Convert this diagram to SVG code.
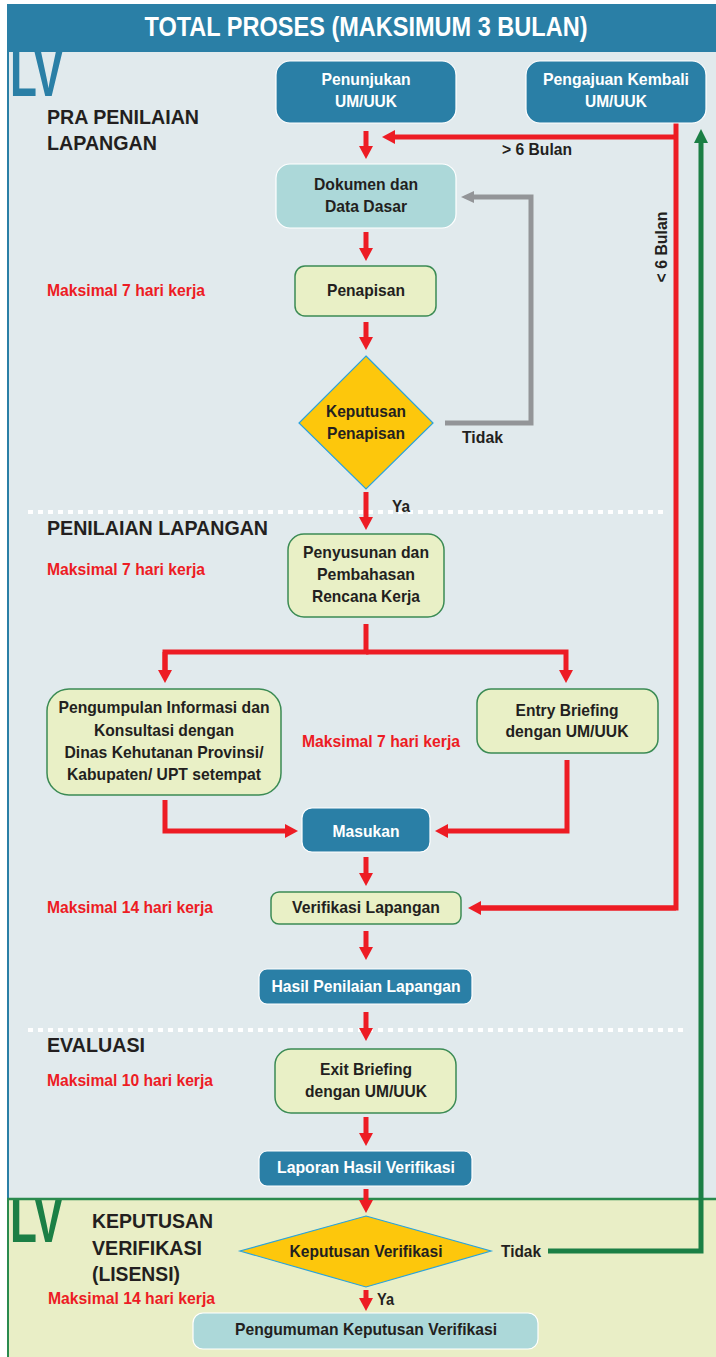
<svg xmlns="http://www.w3.org/2000/svg" width="716" height="1357" viewBox="0 0 716 1357">
<defs>
<style>
.t{font-family:"Liberation Sans",Arial,sans-serif;font-weight:bold;}
.w{fill:#ffffff;font-size:17px;}
.d{fill:#231f20;font-size:17px;}
.r{fill:#ed1c24;font-size:16px;}
.h{fill:#231f20;font-size:21px;}
.lv{font-family:"Liberation Sans",Arial,sans-serif;font-weight:bold;font-size:66px;}
.blue{fill:#2a7fa6;stroke:#ffffff;stroke-width:1.2;}
.teal{fill:#acd8d9;stroke:#ffffff;stroke-width:1.2;}
.lg{fill:#e9f0c6;stroke:#3b8b54;stroke-width:1.5;}
.dia{fill:#fdc70c;stroke:#29a3dd;stroke-width:1.2;}
.ra{fill:none;stroke:#ed1c24;stroke-width:5;marker-end:url(#ar);}
.rl{fill:none;stroke:#ed1c24;stroke-width:5;}
.dot{stroke:#ffffff;stroke-width:4;stroke-dasharray:5 5;}
</style>
<marker id="ar" markerUnits="userSpaceOnUse" viewBox="0 0 13 14" markerWidth="13" markerHeight="14" refX="1" refY="7" orient="auto"><path d="M0,0 L13,7 L0,14 z" fill="#ed1c24"/></marker>
<marker id="ag" markerUnits="userSpaceOnUse" viewBox="0 0 13 12" markerWidth="13" markerHeight="12" refX="1" refY="6" orient="auto"><path d="M0,0 L13,6 L0,12 z" fill="#939598"/></marker>
<marker id="agr" markerUnits="userSpaceOnUse" viewBox="0 0 14 14" markerWidth="14" markerHeight="14" refX="1" refY="7" orient="auto"><path d="M0,0 L14,7 L0,14 z" fill="#1b7f45"/></marker>
<clipPath id="lowclip"><rect x="0" y="1200" width="716" height="157"/></clipPath>
</defs>
<rect width="716" height="1357" fill="#ffffff"/>
<g id="panel-upper">
<rect x="7" y="52" width="709" height="1147" fill="#e1eaed"/>
<line x1="8" y1="52" x2="8" y2="1199" stroke="#2a7fa6" stroke-width="2"/>
<text class="lv" x="10" y="96" fill="#2a7fa6" textLength="53" lengthAdjust="spacingAndGlyphs">LV</text>
</g>
<g id="panel-lower">
<rect x="7" y="1199" width="709" height="158" fill="#e9eec6"/>
<text class="lv" x="10" y="1242" clip-path="url(#lowclip)" fill="#1b7f45" textLength="53" lengthAdjust="spacingAndGlyphs">LV</text>
<line x1="7" y1="1199" x2="716" y2="1199" stroke="#2a8a4e" stroke-width="2.5"/>
<line x1="8" y1="1199" x2="8" y2="1357" stroke="#2a8a4e" stroke-width="2"/>
</g>
<g id="header">
<rect x="7" y="4" width="709" height="48" fill="#2a7fa6"/>
<text class="t" x="366" y="36" fill="#ffffff" font-size="27" text-anchor="middle" textLength="443" lengthAdjust="spacingAndGlyphs">TOTAL PROSES (MAKSIMUM 3 BULAN)</text>
</g>
<g id="separators">
<line class="dot" x1="28" y1="512" x2="663" y2="512"/>
<line class="dot" x1="28" y1="1030" x2="685" y2="1030"/>
</g>
<g id="labels">
<text class="t h" x="47" y="124" textLength="152" lengthAdjust="spacingAndGlyphs">PRA PENILAIAN</text>
<text class="t h" x="47" y="150" textLength="110" lengthAdjust="spacingAndGlyphs">LAPANGAN</text>
<text class="t r" x="47" y="296" textLength="158" lengthAdjust="spacingAndGlyphs">Maksimal 7 hari kerja</text>
<text class="t h" x="47" y="535" textLength="221" lengthAdjust="spacingAndGlyphs">PENILAIAN LAPANGAN</text>
<text class="t r" x="47" y="575" textLength="158" lengthAdjust="spacingAndGlyphs">Maksimal 7 hari kerja</text>
<text class="t r" x="302" y="747" textLength="158" lengthAdjust="spacingAndGlyphs">Maksimal 7 hari kerja</text>
<text class="t r" x="47" y="913" textLength="166" lengthAdjust="spacingAndGlyphs">Maksimal 14 hari kerja</text>
<text class="t h" x="47" y="1052" textLength="98" lengthAdjust="spacingAndGlyphs">EVALUASI</text>
<text class="t r" x="47" y="1086" textLength="166" lengthAdjust="spacingAndGlyphs">Maksimal 10 hari kerja</text>
<text class="t h" x="92" y="1228" textLength="121" lengthAdjust="spacingAndGlyphs">KEPUTUSAN</text>
<text class="t h" x="92" y="1255" textLength="110" lengthAdjust="spacingAndGlyphs">VERIFIKASI</text>
<text class="t h" x="92" y="1281" textLength="88" lengthAdjust="spacingAndGlyphs">(LISENSI)</text>
<text class="t r" x="48" y="1304" textLength="167" lengthAdjust="spacingAndGlyphs">Maksimal 14 hari kerja</text>
</g>
<g id="connectors">
<path class="ra" d="M366,131 V147"/>
<path class="rl" d="M676,123 V908 H478"/>
<path class="ra" d="M676,137 H394"/>
<path class="ra" d="M366,232 V249"/>
<path class="ra" d="M366,322 V338"/>
<path fill="none" stroke="#939598" stroke-width="5" d="M445,423 H531 V197 H473" marker-end="url(#ag)"/>
<path class="ra" d="M366,492 V518"/>
<path class="rl" d="M366,624 V652 H165 V671"/>
<path class="ra" d="M165,652 V671"/>
<path class="ra" d="M366,652 H566 V671"/>
<path class="ra" d="M165,800 V831 H286"/>
<path class="ra" d="M567,760 V831 H447"/>
<path class="ra" d="M366,857 V874"/>
<path class="ra" d="M676,908 H480"/>
<path class="ra" d="M366,931 V948"/>
<path class="ra" d="M366,1012 V1029"/>
<path class="ra" d="M366,1117 V1134"/>
<path class="ra" d="M366,1189 V1201"/>
<path class="ra" d="M366,1290 V1299"/>
<path fill="none" stroke="#1b7f45" stroke-width="5" d="M548,1251 H701 V142" marker-end="url(#agr)"/>
<text class="t d" x="537" y="155" textLength="70" lengthAdjust="spacingAndGlyphs" text-anchor="middle">&gt; 6 Bulan</text>
<text class="t d" transform="translate(667,247) rotate(-90)" x="0" y="0" text-anchor="middle" textLength="71" lengthAdjust="spacingAndGlyphs">&lt; 6 Bulan</text>
<text class="t d" x="462" y="443" textLength="41" lengthAdjust="spacingAndGlyphs">Tidak</text>
<text class="t d" x="392" y="512" textLength="18" lengthAdjust="spacingAndGlyphs">Ya</text>
<text class="t d" x="501" y="1257" textLength="40" lengthAdjust="spacingAndGlyphs">Tidak</text>
<text class="t d" x="377" y="1305" textLength="17" lengthAdjust="spacingAndGlyphs">Ya</text>
</g>
<g id="n-penunjukan">
<rect class="blue" x="276" y="61" width="180" height="62" rx="14"/>
<text class="t w" x="366" y="85" text-anchor="middle" textLength="89" lengthAdjust="spacingAndGlyphs">Penunjukan</text>
<text class="t w" x="366" y="107" text-anchor="middle" textLength="62" lengthAdjust="spacingAndGlyphs">UM/UUK</text>
</g>
<g id="n-pengajuan">
<rect class="blue" x="526" y="61" width="180" height="62" rx="14"/>
<text class="t w" x="616" y="85" text-anchor="middle" textLength="146" lengthAdjust="spacingAndGlyphs">Pengajuan Kembali</text>
<text class="t w" x="616" y="107" text-anchor="middle" textLength="62" lengthAdjust="spacingAndGlyphs">UM/UUK</text>
</g>
<g id="n-dokumen">
<rect class="teal" x="276" y="164" width="180" height="64" rx="14"/>
<text class="t d" x="366" y="190" text-anchor="middle" textLength="104" lengthAdjust="spacingAndGlyphs">Dokumen dan</text>
<text class="t d" x="366" y="212" text-anchor="middle" textLength="82" lengthAdjust="spacingAndGlyphs">Data Dasar</text>
</g>
<g id="n-penapisan">
<rect class="lg" x="295" y="266" width="141" height="50" rx="10"/>
<text class="t d" x="366" y="296" text-anchor="middle" textLength="78" lengthAdjust="spacingAndGlyphs">Penapisan</text>
</g>
<g id="n-keputusan-penapisan">
<polygon class="dia" points="366,356 433,423 366,489 299,423"/>
<text class="t d" x="366" y="417" text-anchor="middle" textLength="80" lengthAdjust="spacingAndGlyphs">Keputusan</text>
<text class="t d" x="366" y="439" text-anchor="middle" textLength="78" lengthAdjust="spacingAndGlyphs">Penapisan</text>
</g>
<g id="n-penyusunan">
<rect class="lg" x="288" y="534" width="156" height="83" rx="16"/>
<text class="t d" x="366" y="558" text-anchor="middle" textLength="126" lengthAdjust="spacingAndGlyphs">Penyusunan dan</text>
<text class="t d" x="366" y="580" text-anchor="middle" textLength="98" lengthAdjust="spacingAndGlyphs">Pembahasan</text>
<text class="t d" x="366" y="602" text-anchor="middle" textLength="108" lengthAdjust="spacingAndGlyphs">Rencana Kerja</text>
</g>
<g id="n-pengumpulan">
<rect class="lg" x="47" y="689" width="234" height="106" rx="22"/>
<text class="t d" x="164" y="713" text-anchor="middle" textLength="211" lengthAdjust="spacingAndGlyphs">Pengumpulan Informasi dan</text>
<text class="t d" x="164" y="736" text-anchor="middle" textLength="140" lengthAdjust="spacingAndGlyphs">Konsultasi dengan</text>
<text class="t d" x="164" y="758" text-anchor="middle" textLength="199" lengthAdjust="spacingAndGlyphs">Dinas Kehutanan Provinsi/</text>
<text class="t d" x="164" y="780" text-anchor="middle" textLength="194" lengthAdjust="spacingAndGlyphs">Kabupaten/ UPT setempat</text>
</g>
<g id="n-entry">
<rect class="lg" x="477" y="689" width="181" height="64" rx="14"/>
<text class="t d" x="567" y="716" text-anchor="middle" textLength="103" lengthAdjust="spacingAndGlyphs">Entry Briefing</text>
<text class="t d" x="567" y="737" text-anchor="middle" textLength="123" lengthAdjust="spacingAndGlyphs">dengan UM/UUK</text>
</g>
<g id="n-masukan">
<rect class="blue" x="302" y="808" width="128" height="44" rx="10"/>
<text class="t w" x="366" y="837" text-anchor="middle" textLength="67" lengthAdjust="spacingAndGlyphs">Masukan</text>
</g>
<g id="n-verifikasi">
<rect class="lg" x="271" y="892" width="190" height="32" rx="8"/>
<text class="t d" x="366" y="913" text-anchor="middle" textLength="148" lengthAdjust="spacingAndGlyphs">Verifikasi Lapangan</text>
</g>
<g id="n-hasil">
<rect class="blue" x="259" y="969" width="213" height="35" rx="8"/>
<text class="t w" x="366" y="992" text-anchor="middle" textLength="189" lengthAdjust="spacingAndGlyphs">Hasil Penilaian Lapangan</text>
</g>
<g id="n-exit">
<rect class="lg" x="275" y="1049" width="181" height="64" rx="16"/>
<text class="t d" x="366" y="1075" text-anchor="middle" textLength="92" lengthAdjust="spacingAndGlyphs">Exit Briefing</text>
<text class="t d" x="366" y="1097" text-anchor="middle" textLength="122" lengthAdjust="spacingAndGlyphs">dengan UM/UUK</text>
</g>
<g id="n-laporan">
<rect class="blue" x="259" y="1151" width="213" height="35" rx="8"/>
<text class="t w" x="366" y="1173" text-anchor="middle" textLength="178" lengthAdjust="spacingAndGlyphs">Laporan Hasil Verifikasi</text>
</g>
<g id="n-keputusan-verifikasi">
<polygon class="dia" points="366,1216 491,1251 366,1287 240,1251"/>
<text class="t d" x="366" y="1257" text-anchor="middle" textLength="153" lengthAdjust="spacingAndGlyphs">Keputusan Verifikasi</text>
</g>
<g id="n-pengumuman">
<rect class="teal" x="193" y="1313" width="345" height="36" rx="10"/>
<text class="t d" x="366" y="1335" text-anchor="middle" textLength="262" lengthAdjust="spacingAndGlyphs">Pengumuman Keputusan Verifikasi</text>
</g>
</svg>
